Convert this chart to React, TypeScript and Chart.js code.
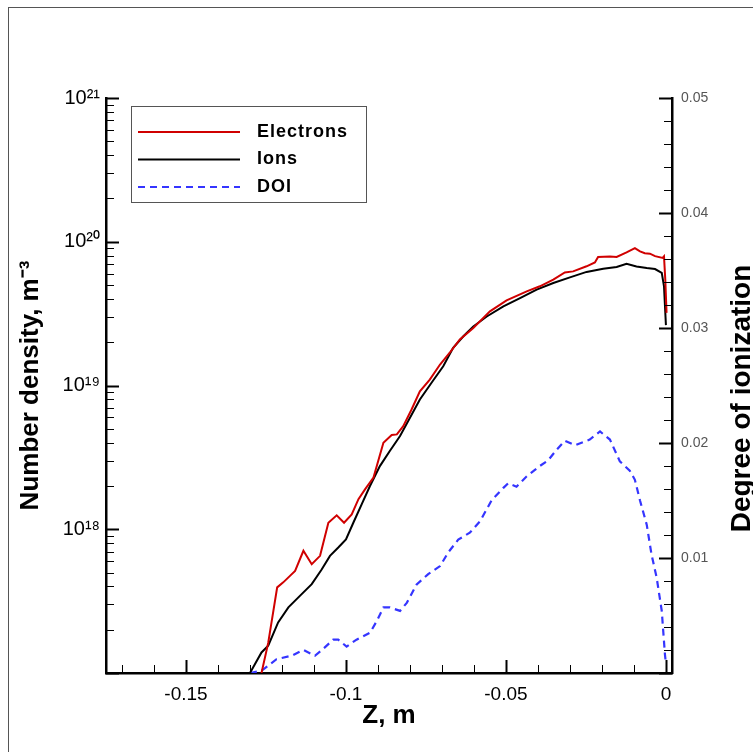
import React, { useEffect, useRef } from "react";
import { Chart, registerables } from "chart.js";
Chart.register(...registerables);

const FONT = "'Liberation Sans', Arial, Helvetica, sans-serif";

// ---- data ----
const zElectrons = [-0.1264, -0.1243, -0.1215, -0.1196, -0.1175, -0.1159, -0.1133, -0.1107, -0.1081, -0.1055, -0.1029, -0.1006, -0.0982, -0.0961, -0.094, -0.0914, -0.0883, -0.0857, -0.0841, -0.0821, -0.0795, -0.0769, -0.0738, -0.0706, -0.0675, -0.0644, -0.0602, -0.055, -0.0498, -0.0435, -0.0394, -0.0352, -0.0316, -0.029, -0.0248, -0.0222, -0.0212, -0.0175, -0.0154, -0.0123, -0.0097, -0.0081, -0.0066, -0.005, -0.0034, -0.001, -0.0006, -0.0002, 0.0002];
const nElectrons = [1.0e17, 1.62e17, 3.94e17, 4.27e17, 4.74e17, 5.13e17, 7.08e17, 5.71e17, 6.53e17, 1.11e18, 1.25e18, 1.11e18, 1.27e18, 1.62e18, 1.9e18, 2.29e18, 4.0e18, 4.52e18, 4.57e18, 5.21e18, 6.81e18, 9.12e18, 1.1e19, 1.4e19, 1.7e19, 2.09e19, 2.51e19, 3.28e19, 3.91e19, 4.52e19, 4.9e19, 5.45e19, 6.12e19, 6.22e19, 6.75e19, 7.18e19, 7.83e19, 7.91e19, 7.83e19, 8.43e19, 9.04e19, 8.57e19, 8.32e19, 8.26e19, 7.94e19, 7.71e19, 7.91e19, 5.45e19, 3.2e19];

const zIons = [-0.13, -0.1264, -0.1243, -0.1212, -0.118, -0.1144, -0.1107, -0.1076, -0.105, -0.1024, -0.1, -0.0977, -0.0951, -0.0925, -0.0894, -0.0863, -0.0831, -0.08, -0.0769, -0.0732, -0.0696, -0.0665, -0.0633, -0.0602, -0.056, -0.0508, -0.0456, -0.0404, -0.0352, -0.03, -0.0248, -0.0196, -0.0154, -0.0123, -0.0092, -0.006, -0.0034, -0.0013, -0.0006, 0.0];
const nIons = [1.0e17, 1.39e17, 1.55e17, 2.25e17, 2.86e17, 3.44e17, 4.15e17, 5.25e17, 6.53e17, 7.46e17, 8.51e17, 1.11e18, 1.49e18, 2.0e18, 2.75e18, 3.5e18, 4.45e18, 5.97e18, 8.0e18, 1.05e19, 1.36e19, 1.83e19, 2.2e19, 2.57e19, 3.02e19, 3.55e19, 4.06e19, 4.65e19, 5.16e19, 5.65e19, 6.17e19, 6.49e19, 6.67e19, 7.03e19, 6.73e19, 6.56e19, 6.46e19, 6.07e19, 4.9e19, 2.63e19];

const zDoi = [-0.13, -0.1264, -0.1217, -0.117, -0.1133, -0.1097, -0.1071, -0.104, -0.1024, -0.0998, -0.0967, -0.0925, -0.0904, -0.0883, -0.0863, -0.0831, -0.081, -0.0779, -0.0743, -0.0706, -0.068, -0.0649, -0.0613, -0.0581, -0.0545, -0.0508, -0.0493, -0.0467, -0.0435, -0.0394, -0.0368, -0.0342, -0.0316, -0.0284, -0.0238, -0.0206, -0.0175, -0.0144, -0.0113, -0.0097, -0.0081, -0.006, -0.0045, -0.0029, -0.0013, -0.0003, 0.0];
const doi = [0.0, 0.0002, 0.0012, 0.0015, 0.002, 0.0015, 0.0021, 0.0029, 0.0029, 0.0023, 0.0029, 0.0035, 0.0045, 0.0057, 0.0057, 0.0054, 0.0061, 0.0077, 0.0086, 0.0093, 0.0105, 0.0116, 0.0122, 0.0132, 0.015, 0.0161, 0.0165, 0.0162, 0.0171, 0.018, 0.0185, 0.0194, 0.0202, 0.0198, 0.0203, 0.021, 0.0203, 0.0184, 0.0176, 0.0168, 0.015, 0.0129, 0.0103, 0.0083, 0.0054, 0.0016, 0.0008];

const seriesLabels = ["Electrons", "Ions", "DOI"];
const xTicks = [-0.15, -0.1, -0.05, 0];
const yLeftTicks = [1e18, 1e19, 1e20, 1e21];
const yRightTicks = [0.01, 0.02, 0.03, 0.04, 0.05];
const xTitle = "Z, m";
const yLeftTitle = "Number density, m\u207B\u00B3";
const yRightTitle = "Degree of ionization";

const SUP: Record<string, string> = { "0": "\u2070", "1": "\u00B9", "2": "\u00B2", "3": "\u00B3", "4": "\u2074", "5": "\u2075", "6": "\u2076", "7": "\u2077", "8": "\u2078", "9": "\u2079", "-": "\u207B" };
function pow10Label(v: number) {
  const e = Math.round(Math.log10(v));
  return "10" + String(e).split("").map((c) => SUP[c]).join("");
}

const zip = (xs: number[], ys: number[]) => xs.map((x, i) => ({ x, y: ys[i] }));

const inwardTicks = {
  id: "inwardTicks",
  afterDatasetsDraw(chart: any) {
    const { ctx, chartArea: a, scales } = chart;
    const x = scales.x, yl = scales.y, yr = scales.y2;
    ctx.save();
    ctx.strokeStyle = "#000";
    const seg = (x1: number, y1: number, x2: number, y2: number, w: number) => {
      ctx.lineWidth = w;
      ctx.beginPath();
      ctx.moveTo(x1, y1);
      ctx.lineTo(x2, y2);
      ctx.stroke();
    };
    const al = (p: number) => Math.round(p) + 0.5;
    for (let i = -17; i <= 0; i++) {
      const major = i % 5 === 0;
      const p = al(x.getPixelForValue(i / 100));
      seg(p, a.bottom, p, a.bottom - (major ? 13 : 8), major ? 2 : 1);
    }
    for (let e = 17; e <= 21; e++) {
      for (let m = 1; m <= 9; m++) {
        if (e === 21 && m > 1) break;
        const p = al(yl.getPixelForValue(m * Math.pow(10, e)));
        const major = m === 1;
        seg(a.left, p, a.left + (major ? 13 : 8), p, major ? 2 : 1);
      }
    }
    for (let j = 0; j <= 25; j++) {
      const major = j % 5 === 0;
      const p = al(yr.getPixelForValue(j * 0.002));
      seg(a.right, p, a.right - (major ? 13 : 8), p, major ? 2 : 1);
    }
    ctx.restore();
  },
};

const legendAndTitle = {
  id: "legendAndTitle",
  afterDraw(chart: any) {
    const { ctx, chartArea: a } = chart;
    ctx.save();
    // legend box
    const bx = a.left + 25, by = a.top + 8, bw = 235, bh = 96;
    ctx.strokeStyle = "#555";
    ctx.lineWidth = 1;
    ctx.setLineDash([]);
    ctx.strokeRect(Math.round(bx) + 0.5, Math.round(by) + 0.5, bw, bh);
    chart.data.datasets.forEach((ds: any, i: number) => {
      const y = by + 26 + i * 27.5;
      ctx.strokeStyle = ds.borderColor;
      ctx.lineWidth = 2;
      ctx.setLineDash(ds.borderDash || []);
      ctx.beginPath();
      ctx.moveTo(bx + 7, y);
      ctx.lineTo(bx + 109, y);
      ctx.stroke();
      ctx.setLineDash([]);
      ctx.fillStyle = "#000";
      ctx.font = `bold 18px ${FONT}`;
      (ctx as any).letterSpacing = "1px";
      ctx.textAlign = "left";
      ctx.textBaseline = "middle";
      ctx.fillText(ds.label, bx + 126, y);
    });
    // right axis title, reading bottom to top
    (ctx as any).letterSpacing = "0px";
    ctx.translate(chart.width - 11, (a.top + a.bottom) / 2 + 13);
    ctx.rotate(-Math.PI / 2);
    ctx.font = `bold 28px ${FONT}`;
    ctx.fillStyle = "#000";
    ctx.textAlign = "center";
    ctx.textBaseline = "middle";
    ctx.fillText(yRightTitle, 0, 0);
    ctx.restore();
  },
};

export default function App() {
  const ref = useRef<HTMLCanvasElement>(null);
  useEffect(() => {
    if (!ref.current) return;
    const chart = new Chart(ref.current, {
      type: "line",
      data: {
        datasets: [
          { label: seriesLabels[0], data: zip(zElectrons, nElectrons), yAxisID: "y", borderColor: "#d00000", borderWidth: 2, pointRadius: 0, tension: 0, fill: false },
          { label: seriesLabels[1], data: zip(zIons, nIons), yAxisID: "y", borderColor: "#000000", borderWidth: 2, pointRadius: 0, tension: 0, fill: false },
          { label: seriesLabels[2], data: zip(zDoi, doi), yAxisID: "y2", borderColor: "#3535ff", borderWidth: 2.2, borderDash: [7, 5], pointRadius: 0, tension: 0, fill: false },
        ],
      },
      options: {
        animation: false,
        responsive: false,
        devicePixelRatio: 1,
        layout: { padding: { top: 98, left: 0, right: 0, bottom: 0 } },
        plugins: { legend: { display: false }, tooltip: { enabled: false } },
        scales: {
          x: {
            type: "linear",
            min: -0.175,
            max: 0.0019,
            afterBuildTicks: (s: any) => { s.ticks = xTicks.map((v) => ({ value: v })); },
            afterFit: (s: any) => { s.height = 79; },
            ticks: {
              autoSkip: false,
              maxRotation: 0,
              padding: 10,
              color: "#000",
              font: { size: 19, family: FONT },
              callback: (v: any) => (Number(v) === 0 ? "0" : String(Number(Number(v).toFixed(3)))),
            },
            grid: { display: true, drawOnChartArea: false, drawTicks: false },
            border: { display: true, color: "#000", width: 2.5 },
            title: { display: true, text: xTitle, color: "#000", font: { size: 26, weight: "bold", family: FONT }, padding: { top: 0, bottom: 21 } },
          },
          y: {
            type: "logarithmic",
            position: "left",
            min: 1e17,
            max: 1e21,
            afterBuildTicks: (s: any) => { s.ticks = yLeftTicks.map((v) => ({ value: v })); },
            afterFit: (s: any) => { s.width = 106; },
            ticks: {
              autoSkip: false,
              padding: 6,
              color: "#000",
              font: { size: 20, family: FONT },
              callback: (v: any) => pow10Label(Number(v)),
            },
            grid: { display: true, drawOnChartArea: false, drawTicks: false },
            border: { display: true, color: "#000", width: 2.5 },
            title: { display: true, text: yLeftTitle, color: "#000", font: { size: 26, weight: "bold", family: FONT }, padding: { top: 15, bottom: 0 } },
          },
          y2: {
            type: "linear",
            position: "right",
            min: 0,
            max: 0.05,
            afterBuildTicks: (s: any) => { s.ticks = yRightTicks.map((v) => ({ value: v })); },
            afterFit: (s: any) => { s.width = 81; },
            ticks: {
              autoSkip: false,
              padding: 9,
              color: "#555",
              font: { size: 14, family: FONT },
              callback: (v: any) => Number(v).toFixed(2),
            },
            grid: { display: true, drawOnChartArea: false, drawTicks: false },
            border: { display: true, color: "#000", width: 2.5 },
          },
        },
      } as any,
      plugins: [inwardTicks, legendAndTitle],
    });
    return () => chart.destroy();
  }, []);

  return (
    <div style={{ position: "fixed", left: 0, top: 0, width: 753, height: 752, overflow: "hidden", background: "#fff" }}>
      <div style={{ position: "absolute", left: 8, top: 7, width: 800, height: 800, borderTop: "1px solid #555", borderLeft: "1px solid #555" }} />
      <canvas ref={ref} width={753} height={752} style={{ position: "absolute", left: 0, top: 0, width: 753, height: 752 }} />
    </div>
  );
}
